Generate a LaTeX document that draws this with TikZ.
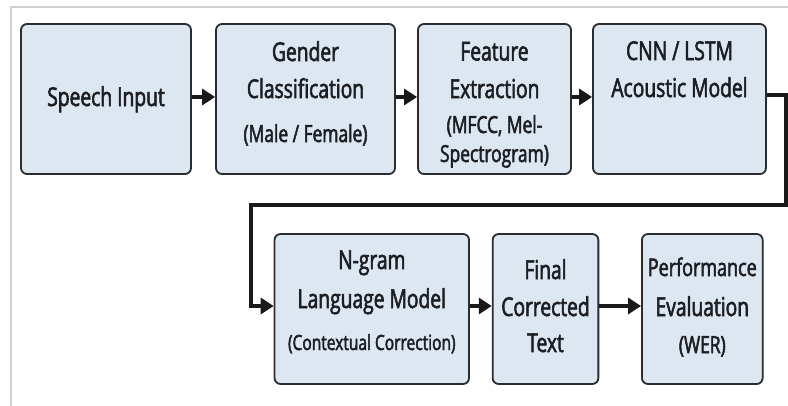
\documentclass[tikz,border=0pt]{standalone}
\usepackage{fontspec}
\setmainfont[FakeStretch=0.74,FakeBold=2.2]{Open Sans}
\usetikzlibrary{arrows.meta}
\definecolor{boxfill}{HTML}{DDE7F2}
\definecolor{boxline}{HTML}{2A2C2F}
\definecolor{frameline}{HTML}{CFCFCF}
\definecolor{txt}{HTML}{1C1E21}
\tikzset{
  stepbox/.style={draw=boxline, line width=1.8pt, fill=boxfill, rounded corners=6pt, inner sep=0pt},
  ttl/.style={anchor=base, inner sep=0pt, text=txt, font=\fontsize{26}{30}\selectfont},
  sub/.style={anchor=base, inner sep=0pt, text=txt, font=\fontsize{23.5}{28}\selectfont},
  flow/.style={line width=3.5pt, draw=black!90, -{Triangle[length=13pt,width=16pt]}},
}
\begin{document}
\begin{tikzpicture}[x=1pt,y=-1pt]
\useasboundingbox (0,0) rectangle (788,405);
\fill[white] (0,0) rectangle (788,405);
\draw[frameline, line width=2pt] (10.5,420) -- (10.5,7) -- (800,7);
% row 1
\node[stepbox, minimum width=170pt, minimum height=150pt] (b1) at (106,99) {};
\node[stepbox, minimum width=179pt, minimum height=150pt] (b2) at (305.5,99) {};
\node[stepbox, minimum width=153pt, minimum height=150pt] (b3) at (494.5,99) {};
\node[stepbox, minimum width=173pt, minimum height=150pt] (b4) at (679.5,99) {};
% row 2
\node[stepbox, minimum width=194.5pt, minimum height=150pt] (b5) at (371.8,309) {};
\node[stepbox, minimum width=105.7pt, minimum height=150pt] (b6) at (545.5,309) {};
\node[stepbox, minimum width=120.7pt, minimum height=150pt] (b7) at (702.3,309) {};
% texts
\node[ttl] (t1) at (106,106) {Speech Input};
\node[ttl] (t2a) at (305.5,61) {Gender};
\node[ttl] (t2b) at (305.5,98) {Classification};
\node[sub] (t2c) at (305.5,142) {(Male / Female)};
\node[ttl] (t3a) at (494.5,60.5) {Feature};
\node[ttl] (t3b) at (494.5,98) {Extraction};
\node[sub] (t3c) at (494.5,133) {(MFCC, Mel-};
\node[sub] (t3d) at (494.5,162) {Spectrogram)};
\node[ttl] (t4a) at (679.5,60) {CNN / LSTM};
\node[ttl] (t4b) at (679.5,97) {Acoustic Model};
\node[ttl] (t5a) at (371.8,269) {N-gram};
\node[ttl] (t5b) at (371.8,308) {Language Model};
\node[sub, font=\fontsize{21}{25}\selectfont] (t5c) at (371.8,350) {(Contextual Correction)};
\node[ttl] (t6a) at (545.5,279) {Final};
\node[ttl] (t6b) at (545.5,316) {Corrected};
\node[ttl] (t6c) at (545.5,352) {Text};
\node[ttl, font=\fontsize{24.3}{29}\selectfont] (t7a) at (702.3,276) {Performance};
\node[ttl] (t7b) at (702.3,316) {Evaluation};
\node[sub] (t7c) at (702.3,353) {(WER)};
% connectors
\coordinate (r1) at (786,95);
\coordinate (r2) at (786,205);
\coordinate (l1) at (251,205);
\coordinate (l2) at (251,306);
\draw[flow] (b1.east |- 0,97) -- (b2.west |- 0,97);
\draw[flow] (b2.east |- 0,97) -- (b3.west |- 0,97);
\draw[flow] (b3.east |- 0,97) -- (b4.west |- 0,97);
\draw[flow, line join=miter] (b4.east |- r1) -- (r1) -- (r2) -- (l1) -- (l2) -- (b5.west |- l2);
\draw[flow] (b5.east |- l2) -- (b6.west |- l2);
\draw[flow] (b6.east |- l2) -- (b7.west |- l2);
\end{tikzpicture}
\end{document}
